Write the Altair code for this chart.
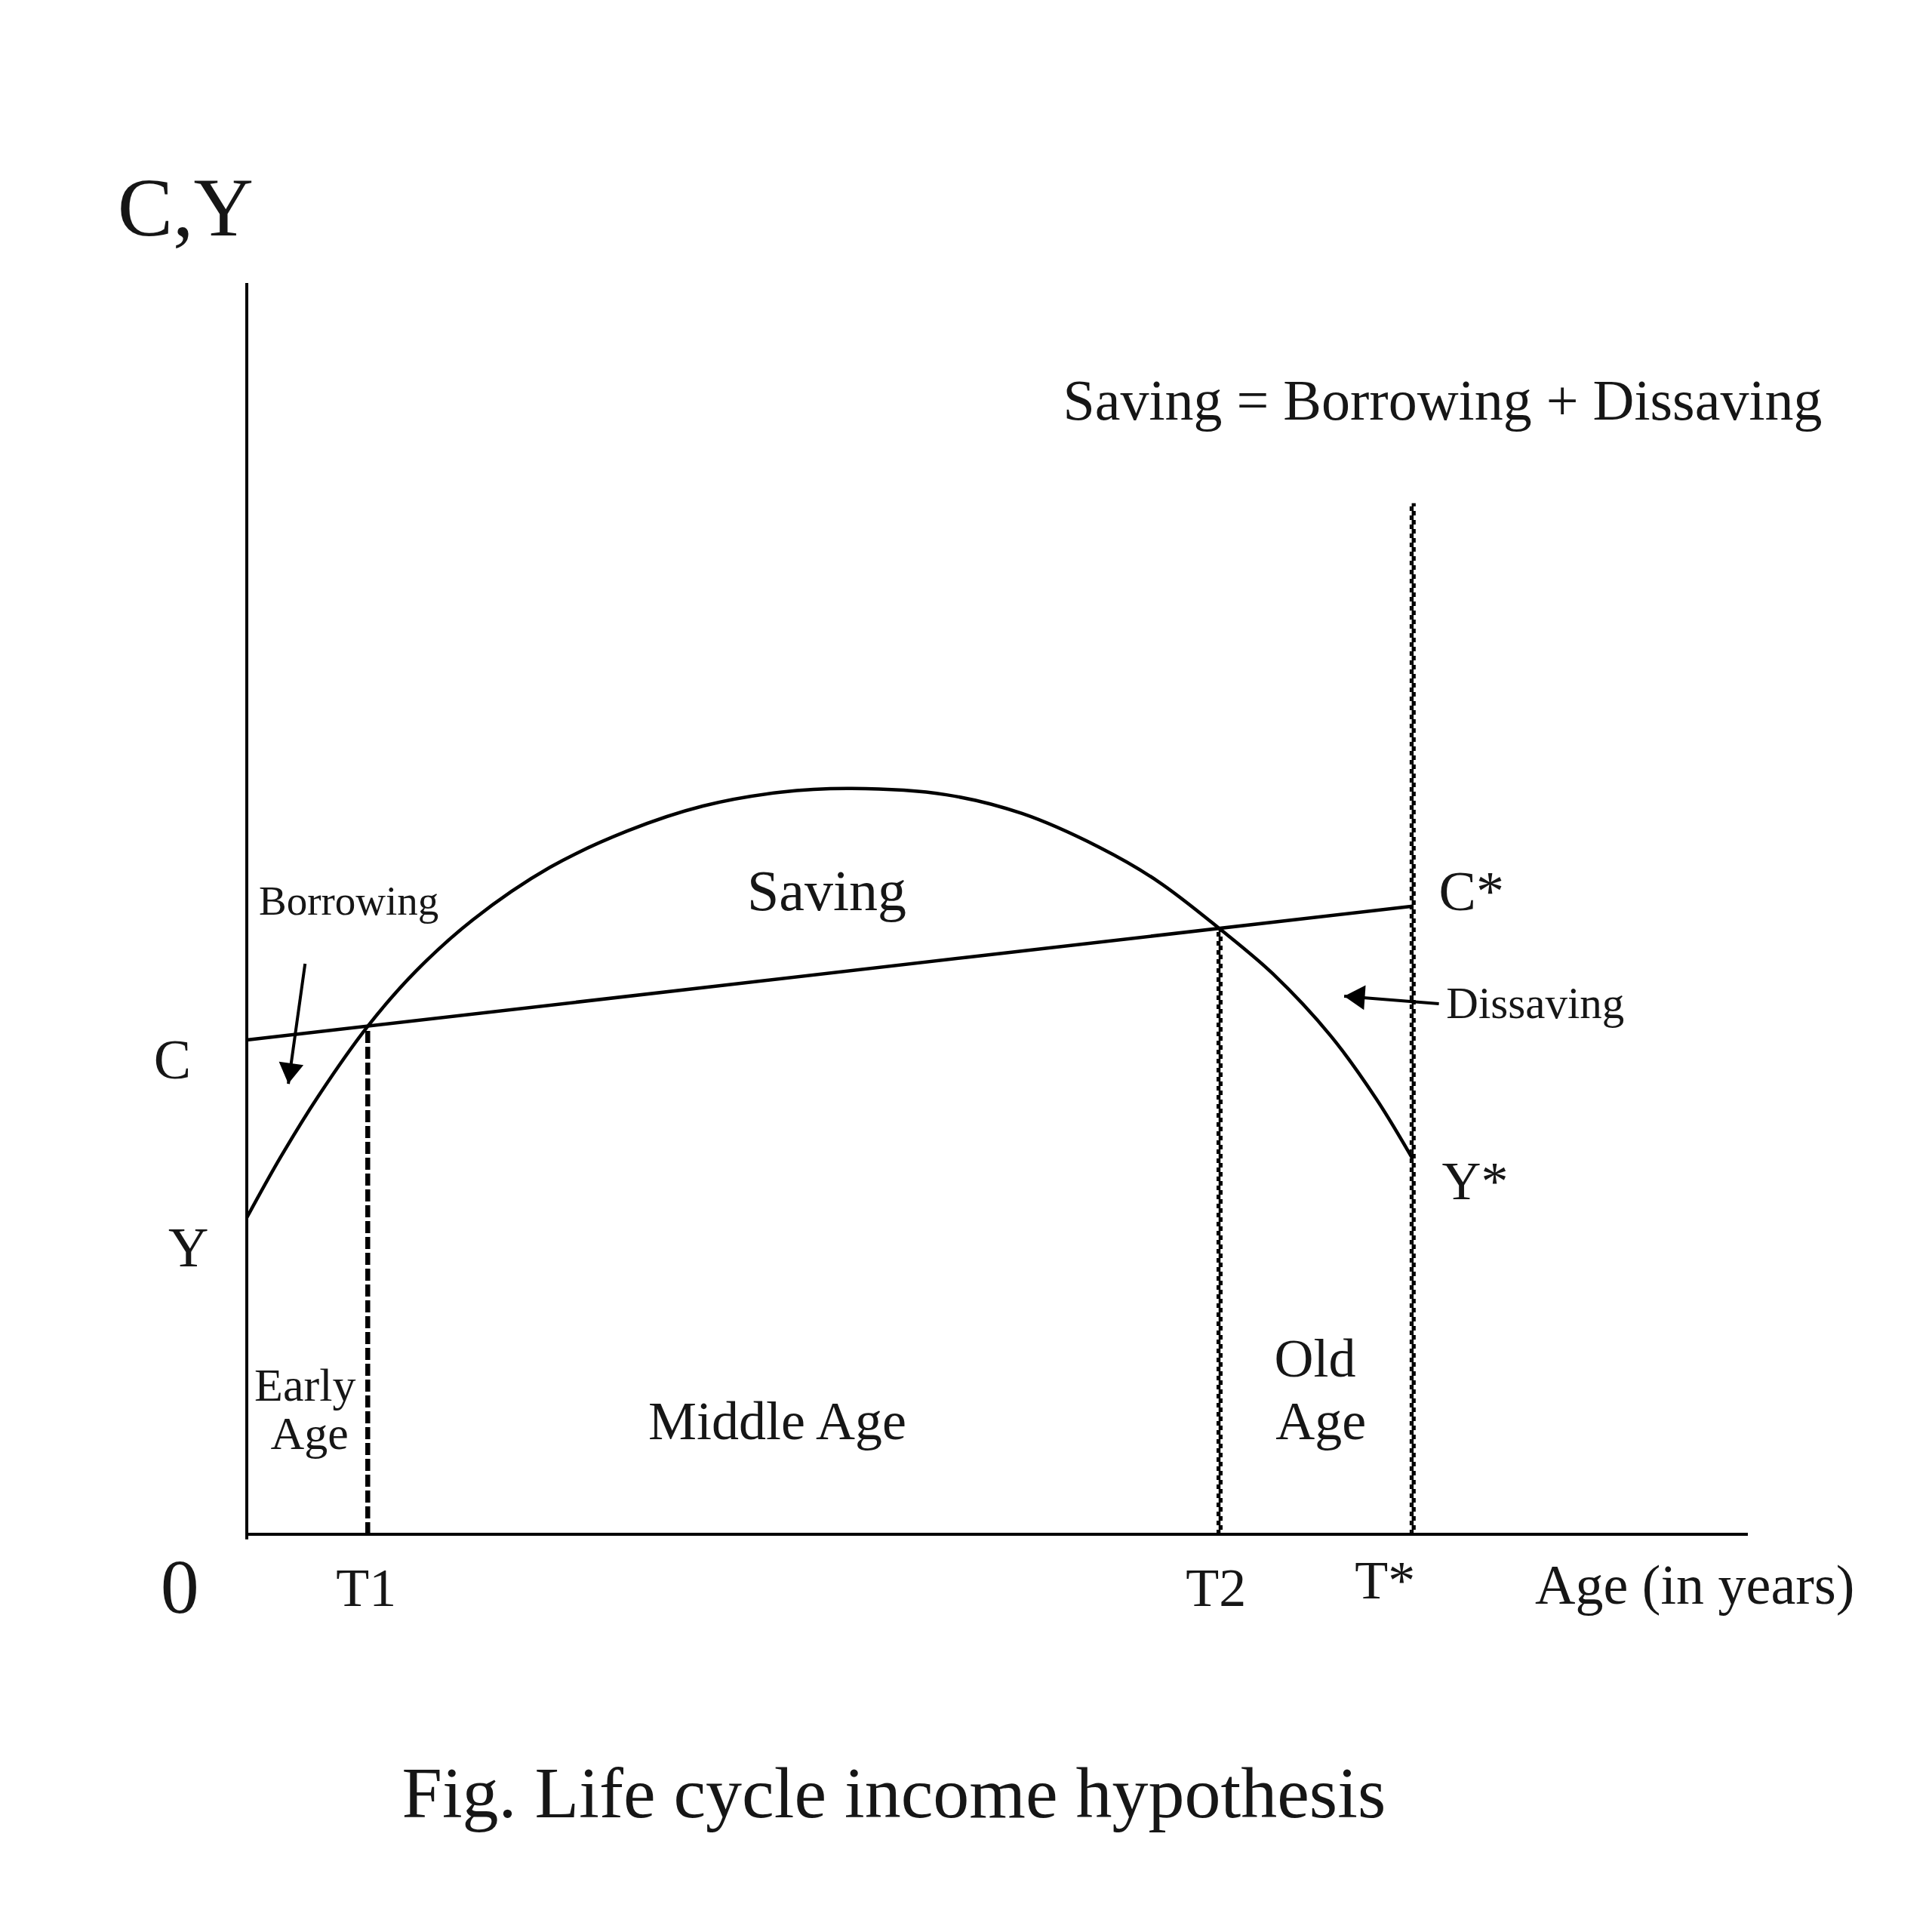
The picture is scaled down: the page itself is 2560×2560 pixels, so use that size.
import altair as alt
import pandas as pd

# ---------------- data ----------------
# Income curve Y over the life cycle (age units, C/Y units)
ages = [0, 2.3, 4.9, 8.3, 11.6, 15.5, 20.8, 26.1, 31.3, 36.6, 41.5,
        48.0, 53.2, 58.5, 62.5, 66.75, 70.4, 74.4, 77.5, 80.0]
income = [25.3, 30.1, 35.0, 40.6, 45.0, 49.1, 53.3, 56.2, 58.2, 59.3, 59.6,
          59.1, 57.6, 54.9, 52.2, 48.4, 44.8, 39.8, 34.8, 30.0]

# Consumption line C -> C*
cons_ages = [0, 80.0]
consumption = [39.5, 50.2]

# Key ages
T1, T2, TSTAR = 8.3, 66.75, 80.0
t1_top, t2_top, tstar_top = 40.6, 48.4, 82.4

# Axis extents
X_END, Y_END = 103, 100

# Arrows (tail -> tip), angle of head
arrow_x = [4.0, 81.8]
arrow_y = [45.6, 42.4]
arrow_x2 = [2.85, 75.3]
arrow_y2 = [36.0, 43.0]
arrow_angle = [188, 274]

# Labels
center_labels = ["C,Y", "Fig. Life cycle income hypothesis", "Saving", "Borrowing",
                 "C", "Y", "0", "T1", "T2", "T*", "Middle Age", "Old", "Age",
                 "Early", "Age"]
center_x = [-4.2, 44.4, 39.8, 7.0, -5.1, -4.0, -4.6, 8.2, 66.5, 78.1, 36.4,
            73.3, 73.7, 4.0, 4.3]
center_y = [103.8, -22.6, 49.9, 49.5, 36.4, 21.4, -6.3, -5.7, -5.7, -5.1, 7.6,
            12.6, 7.6, 10.7, 6.8]
center_size = [110, 96, 76, 55, 74, 74, 102, 72, 72, 72, 72, 72, 72, 62, 62]

left_labels = ["Saving = Borrowing + Dissaving", "C*", "Y*", "Dissaving",
               "Age (in years)"]
left_x = [56.0, 81.8, 82.0, 82.3, 88.4]
left_y = [89.1, 49.9, 26.8, 41.25, -5.55]
left_size = [76, 74, 72, 59, 74]

# ---------------- chart ----------------
FONT = "Liberation Serif"
INK = "#161616"

xs = alt.Scale(domain=[0, X_END], nice=False, zero=False)
ys = alt.Scale(domain=[0, Y_END], nice=False, zero=False)

def X(f):
    return alt.X(f, type="quantitative", scale=xs, axis=None)

def Yc(f):
    return alt.Y(f, type="quantitative", scale=ys, axis=None)

axes_df = pd.DataFrame({"x": [0, 0], "x2": [X_END, 0], "y": [0, -0.4], "y2": [0, Y_END]})
axes = alt.Chart(axes_df).mark_rule(color="black", strokeWidth=4).encode(
    x=X("x"), x2="x2", y=Yc("y"), y2="y2")

inc_df = pd.DataFrame({"age": ages, "v": income})
inc = alt.Chart(inc_df).mark_line(color="black", strokeWidth=4.5,
                                  interpolate="catmull-rom").encode(
    x=X("age"), y=Yc("v"))

con_df = pd.DataFrame({"age": cons_ages, "v": consumption})
con = alt.Chart(con_df).mark_line(color="black", strokeWidth=4.5).encode(
    x=X("age"), y=Yc("v"))

t1_df = pd.DataFrame({"x": [T1], "y": [0], "y2": [t1_top]})
t1 = alt.Chart(t1_df).mark_rule(color="black", strokeWidth=6.5, strokeDash=[16, 5]).encode(
    x=X("x"), y=Yc("y"), y2="y2")

zz_df = pd.DataFrame({"x": [T2, TSTAR], "y": [0, 0], "y2": [t2_top, tstar_top]})
zz_core = alt.Chart(zz_df).mark_rule(color="black", strokeWidth=2.5).encode(
    x=X("x"), y=Yc("y"), y2="y2")
zz_a = alt.Chart(zz_df).mark_rule(color="black", strokeWidth=3, strokeDash=[6, 6],
                                  xOffset=-2.5).encode(x=X("x"), y=Yc("y"), y2="y2")
zz_b = alt.Chart(zz_df).mark_rule(color="black", strokeWidth=3, strokeDash=[6, 6],
                                  strokeDashOffset=6, xOffset=2.5).encode(
    x=X("x"), y=Yc("y"), y2="y2")

arr_df = pd.DataFrame({"x": arrow_x, "y": arrow_y, "x2": arrow_x2, "y2": arrow_y2,
                       "angle": arrow_angle})
arr_lines = alt.Chart(arr_df).mark_rule(color="black", strokeWidth=4).encode(
    x=X("x"), y=Yc("y"), x2="x2", y2="y2")
arr_heads = alt.Chart(arr_df).mark_point(
    shape="M0,0L0.6,1L-0.6,1Z", filled=True, color="black", opacity=1,
    size=3000, strokeWidth=0).encode(
    x=X("x2"), y=Yc("y2"), angle=alt.Angle("angle:Q", scale=None))

c_df = pd.DataFrame({"x": center_x, "y": center_y, "t": center_labels, "s": center_size})
c_txt = alt.Chart(c_df).mark_text(font=FONT, color=INK, align="center",
                                  baseline="alphabetic").encode(
    x=X("x"), y=Yc("y"), text="t:N", size=alt.Size("s:Q", scale=None))

l_df = pd.DataFrame({"x": left_x, "y": left_y, "t": left_labels, "s": left_size})
l_txt = alt.Chart(l_df).mark_text(font=FONT, color=INK, align="left",
                                  baseline="alphabetic").encode(
    x=X("x"), y=Yc("y"), text="t:N", size=alt.Size("s:Q", scale=None))

chart = alt.layer(axes, inc, con, t1, zz_core, zz_a, zz_b, arr_lines, arr_heads,
                  c_txt, l_txt).properties(
    width=1989, height=1658,
    padding={"left": 319, "top": 367, "right": 236, "bottom": 519},
    autosize=alt.AutoSizeParams(type="none"),
    background="white",
).configure_view(stroke=None)

chart.save("out.html", embed_options={"renderer": "svg", "actions": False})
